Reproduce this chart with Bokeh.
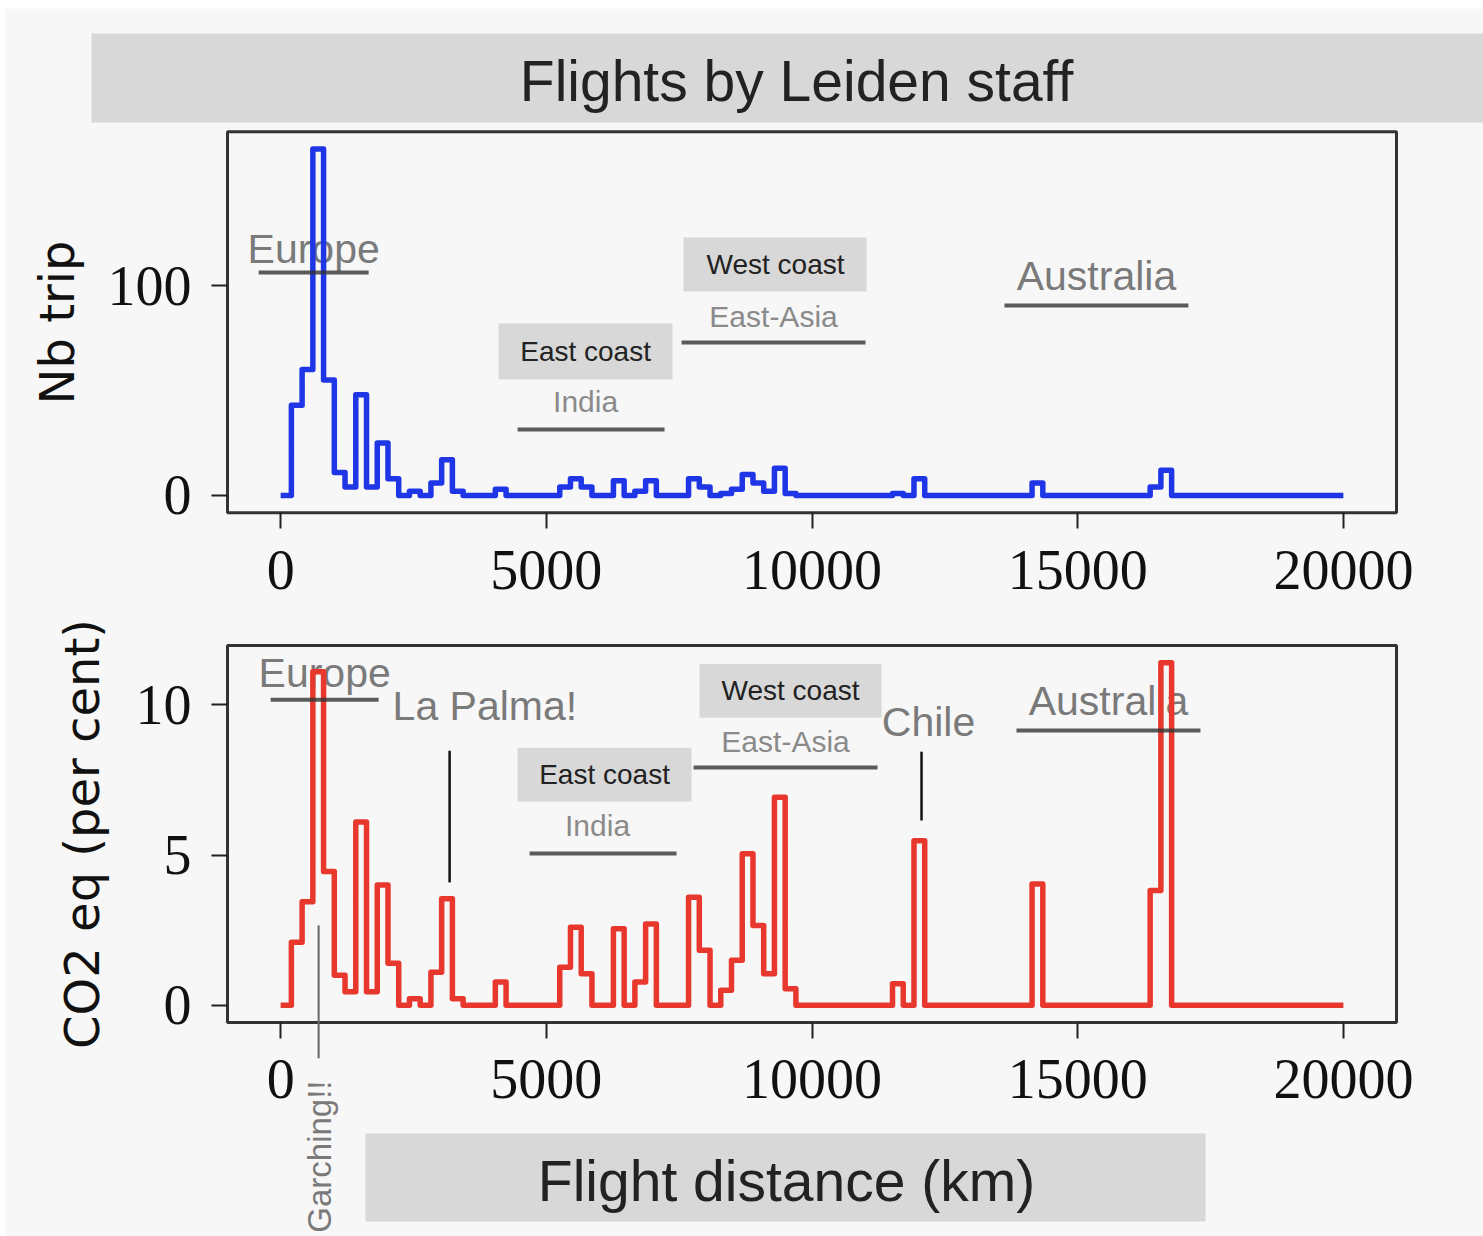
import numpy as np
from bokeh.plotting import figure
from bokeh.models import FixedTicker, LinearAxis, Range1d
from bokeh.core.properties import value
from bokeh.embed import file_html
from bokeh.resources import INLINE

# ---------------- data ----------------
MAX_KM = 20000
N_BINS = 99  # histogram bins between 0 and 20000 km

trips = [0, 43, 60, 165, 55, 11, 4, 48, 4, 25,
         8, 0, 2, 0, 6, 17, 2, 0, 0, 0,
         3, 0, 0, 0, 0, 0, 4, 8, 4, 0,
         0, 7, 0, 2, 7, 0, 0, 0, 8, 4,
         0, 1, 3, 10, 6, 2, 13, 1, 0, 0,
         0, 0, 0, 0, 0, 0, 0, 1, 0, 8,
         0, 0, 0, 0, 0, 0, 0, 0, 0, 0,
         6, 0, 0, 0, 0, 0, 0, 0, 0, 0,
         0, 4, 12, 0, 0, 0, 0, 0, 0, 0,
         0, 0, 0, 0, 0, 0, 0, 0, 0]

co2_pct = [0, 2.1, 3.45, 11.1, 4.45, 1.0, 0.45, 6.1, 0.45, 4.0,
           1.4, 0, 0.22, 0, 1.1, 3.55, 0.22, 0, 0, 0,
           0.78, 0, 0, 0, 0, 0, 1.27, 2.6, 1.05, 0,
           0, 2.55, 0, 0.78, 2.71, 0, 0, 0, 3.6, 1.83,
           0, 0.5, 1.5, 5.04, 2.66, 1.05, 6.92, 0.55, 0, 0,
           0, 0, 0, 0, 0, 0, 0, 0.72, 0, 5.48,
           0, 0, 0, 0, 0, 0, 0, 0, 0, 0,
           4.04, 0, 0, 0, 0, 0, 0, 0, 0, 0,
           0, 3.82, 11.4, 0, 0, 0, 0, 0, 0, 0,
           0, 0, 0, 0, 0, 0, 0, 0, 0]

x_ticks = [0, 5000, 10000, 15000, 20000]
y_ticks_trips = [0, 100]
y_ticks_co2 = [0, 5, 10]

title_text = "Flights by Leiden staff"
xlabel_text = "Flight distance (km)"
ylabel_trips = "Nb trip"
ylabel_co2 = "CO2 eq (per cent)"

edges = np.linspace(0, MAX_KM, N_BINS + 1)

# panel extents (data units)
X_LO, X_HI = -1000, 21000
TRIP_LO, TRIP_HI = -8.25, 173.25
CO2_LO, CO2_HI = -0.57, 11.97

BG = "#f7f7f7"
BOX = "#d8d8d8"
GRAY_TXT = "#7a7a7a"
LIGHT_TXT = "#8a8a8a"
SANS = "Liberation Sans"
TOP = "top"

# one canvas; the CO2 panel uses the default y range, the trip panel an extra range
p = figure(width=1483, height=1236,
           x_range=Range1d(-5272, 22637), y_range=Range1d(-7.69, 33.43),
           x_axis_type=None, y_axis_type=None,
           output_backend="svg", toolbar_location=None, min_border=0,
           background_fill_color="white", border_fill_color="white")
p.extra_y_ranges = {TOP: Range1d(-352.92, 235.74)}
p.title.visible = False
p.outline_line_color = None
p.grid.visible = False

# page background (white sliver at top/left as in the reference)
p.quad(left=[-5178], right=[23000], bottom=[-8], top=[33.16], fill_color=BG, line_color=None)


def style_axis(ax, ticks, standoff):
    ax.ticker = FixedTicker(ticks=ticks)
    ax.axis_line_color = None
    ax.major_tick_line_color = "#222222"
    ax.major_tick_line_width = 2
    ax.major_tick_out = 16
    ax.major_tick_in = 0
    ax.minor_tick_line_color = None
    ax.major_label_text_font = "Liberation Serif"
    ax.major_label_text_font_size = "56px"
    ax.major_label_text_color = "#111111"
    ax.major_label_standoff = standoff


def txt(x, y, s, size, color, align="center", rn="default", font=SANS, angle=0.0):
    p.text(x=[x], y=[y], text=[s], text_font=value(font),
           text_font_size=value(size), text_color=color, angle=angle,
           text_align=align, text_baseline="middle", y_range_name=rn)


def uline(x0, x1, y, rn="default"):
    p.line(x=[x0, x1], y=[y, y], line_color="#333333", line_width=4,
           line_alpha=0.8, y_range_name=rn)


def vline(x, y0, y1, color="#111111", w=2.5, rn="default"):
    p.line(x=[x, x], y=[y0, y1], line_color=color, line_width=w, y_range_name=rn)


def coast_box(l, r, b, t, s, tx, ty, rn="default"):
    p.quad(left=[l], right=[r], bottom=[b], top=[t], fill_color=BOX,
           line_color=None, y_range_name=rn)
    txt(tx, ty, s, "28px", "#222222", rn=rn)


def frame_box(lo, hi, rn="default"):
    p.quad(left=[X_LO], right=[X_HI], bottom=[lo], top=[hi], fill_color=None,
           line_color="#333333", line_width=3, y_range_name=rn)


# ---------------- title bar ----------------
p.quad(left=[-3559], right=[23000], bottom=[177.6], top=[220.0], fill_color=BOX,
       line_color=None, y_range_name=TOP)
txt(9709, 197.6, title_text, "57px", "#222222", rn=TOP)

# ---------------- top panel: number of trips ----------------
txt(621, 117.6, "Europe", "41px", GRAY_TXT, rn=TOP)
coast_box(7582, 11026, 97.1, 122.9, "West coast", 9313, 110, rn=TOP)
txt(9276, 85.2, "East-Asia", "30px", LIGHT_TXT, rn=TOP)
coast_box(4102, 7375, 55.2, 81.9, "East coast", 5739, 68.6, rn=TOP)
txt(5739, 44.8, "India", "30px", LIGHT_TXT, rn=TOP)
txt(15353, 104.3, "Australia", "41px", GRAY_TXT, rn=TOP)

p.step(x=edges, y=trips + [trips[-1]], mode="after", y_range_name=TOP,
       line_color="#1f36e6", line_width=5.5, line_join="round")

uline(-414, 1656, 106.2, rn=TOP)
uline(7545, 11007, 72.9, rn=TOP)
uline(4459, 7225, 31.4, rn=TOP)
uline(13622, 17084, 90.5, rn=TOP)
frame_box(TRIP_LO, TRIP_HI, rn=TOP)

ax = LinearAxis(y_range_name=TOP, fixed_location=TRIP_LO)
style_axis(ax, x_ticks, 22)
p.add_layout(ax, "below")
ay = LinearAxis(y_range_name=TOP, fixed_location=X_LO)
style_axis(ay, y_ticks_trips, 20)
p.add_layout(ay, "left")
txt(-4215, 82.4, ylabel_trips, "48px", "#111111", rn=TOP, font="DejaVu Sans", angle=np.pi / 2)

# ---------------- bottom panel: CO2 share ----------------
txt(828, 11.06, "Europe", "41px", GRAY_TXT)
txt(2107, 9.97, "La Palma!", "41px", GRAY_TXT, align="left")
vline(3180, 8.47, 4.09)
coast_box(7883, 11308, 9.57, 11.36, "West coast", 9596, 10.47)
txt(9502, 8.77, "East-Asia", "30px", LIGHT_TXT)
coast_box(4459, 7733, 6.78, 8.57, "East coast", 6096, 7.67)
txt(5964, 5.98, "India", "30px", LIGHT_TXT)
txt(12192, 9.44, "Chile", "41px", GRAY_TXT)
vline(12061, 8.44, 6.15)
txt(15579, 10.13, "Australia", "41px", GRAY_TXT)

p.step(x=edges, y=co2_pct + [co2_pct[-1]], mode="after",
       line_color="#e8382d", line_width=5.5, line_join="round")

uline(-188, 1844, 10.17)
uline(7771, 11233, 7.91)
uline(4685, 7451, 5.05)
uline(13848, 17310, 9.14)
frame_box(CO2_LO, CO2_HI)

bx = LinearAxis(fixed_location=CO2_LO)
style_axis(bx, x_ticks, 22)
p.add_layout(bx, "below")
by = LinearAxis(fixed_location=X_LO)
style_axis(by, y_ticks_co2, 20)
p.add_layout(by, "left")
txt(-3740, 5.70, ylabel_co2, "48px", "#111111", font="DejaVu Sans", angle=np.pi / 2)

# Garching marker, below the axis
vline(715, 2.66, -1.76, color="#666666", w=2)
txt(734, -2.50, "Garching!!", "33px", GRAY_TXT, align="right", angle=np.pi / 2)

# x label bar
p.quad(left=[1597], right=[17406], bottom=[-7.19], top=[-4.26], fill_color=BOX, line_color=None)
txt(9520, -5.83, xlabel_text, "57px", "#222222")

open("out.html", "w").write(file_html(p, INLINE))
